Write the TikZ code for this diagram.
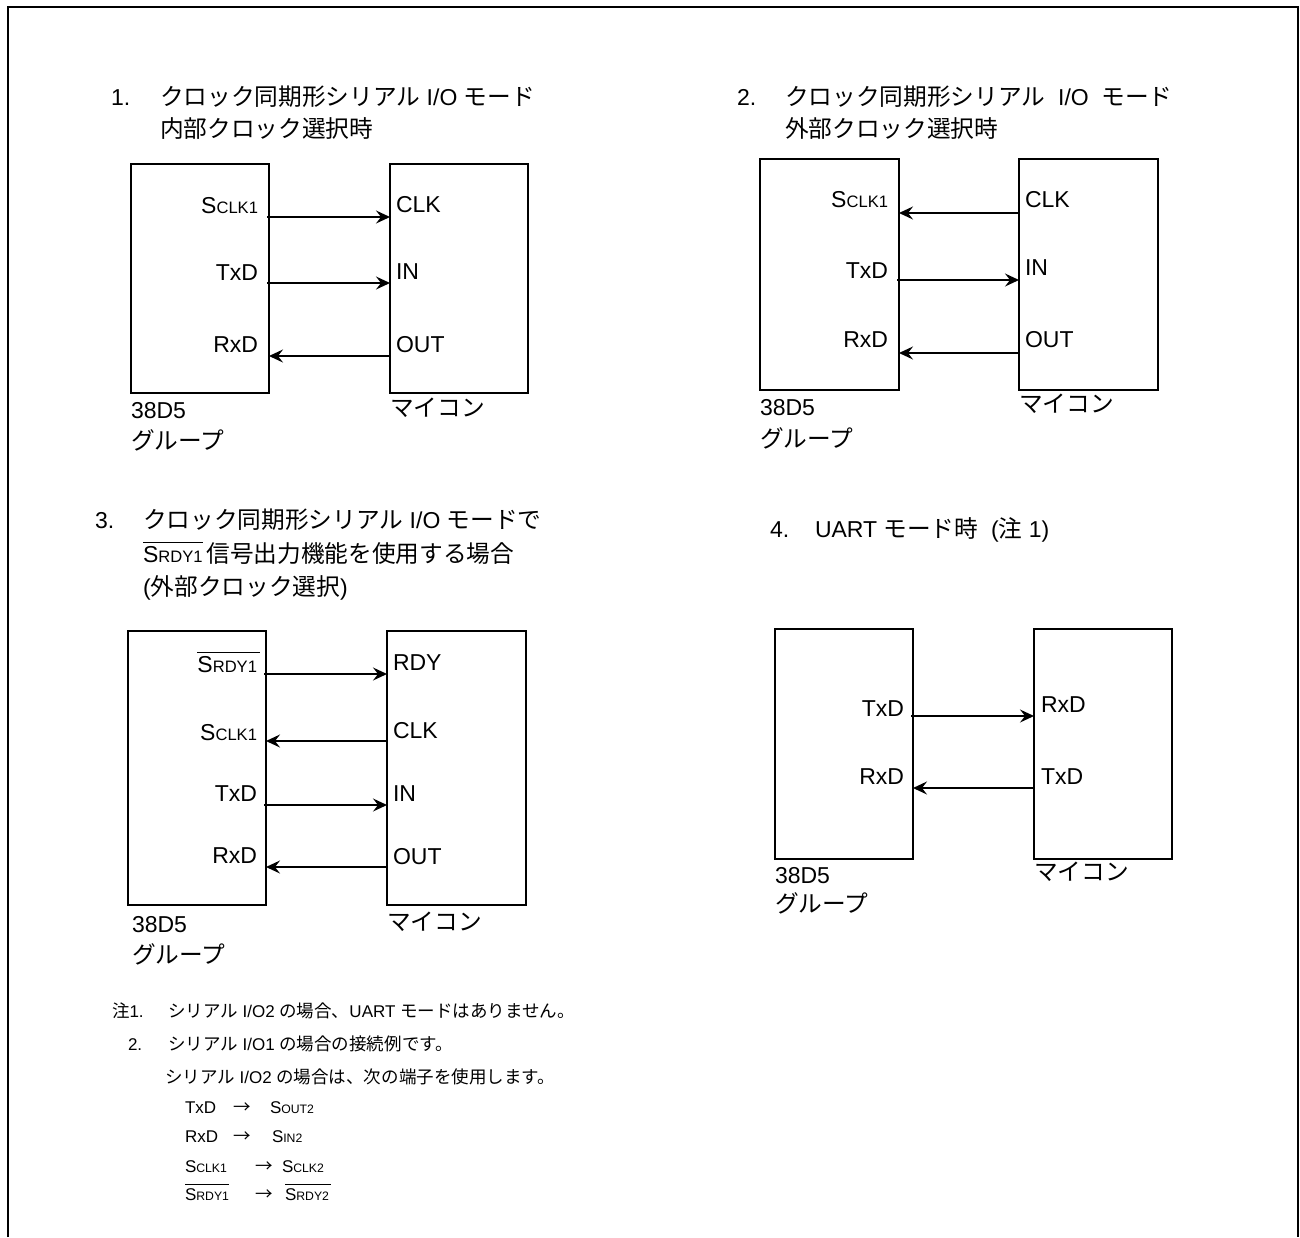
\documentclass[tikz,border=0pt]{standalone}
\usepackage{fontspec}
\setmainfont{Liberation Sans}
\newfontfamily\jp[Scale=1.03]{Noto Sans CJK JP}
\usetikzlibrary{arrows.meta,calc}
\newcommand\J[1]{{\jp #1}}
\newcommand\sml[1]{{\fontsize{0.72em}{1em}\selectfont #1}}
\newcommand\ovl[1]{\vbox{\hrule height 1.2pt\kern 3pt\hbox{#1}}}
\begin{document}
\begin{tikzpicture}[x=1pt,y=-1pt,
 box/.style={draw, line width=2pt, inner sep=0pt, outer sep=0pt, anchor=north west},
 txt/.style={inner sep=0pt, outer sep=0pt, font=\fontsize{23}{27}\selectfont},
 lft/.style={txt, anchor=base east},
 rgt/.style={txt, anchor=base west},
 ttl/.style={txt, anchor=base west},
 note/.style={inner sep=0pt, outer sep=0pt, anchor=base west, font=\fontsize{17}{20}\selectfont},
 arr/.style={line width=1.5pt, -{Stealth[length=14pt,width=13pt,inset=5pt]}},
]
\useasboundingbox (0,0) rectangle (1300,1237);
\draw[line width=2.5pt] (8,1237) -- (8,7) -- (1298,7) -- (1298,1237);

% ---------------- Diagram 1 ----------------
\node[ttl] (t1n) at (111,105) {1.};
\node[ttl] (t1a) at (160,105) {\J{クロック同期形シリアル} I/O \J{モード}};
\node[ttl] (t1b) at (160,137) {\J{内部クロック選択時}};
\node[box, minimum width=138, minimum height=229] (L1) at (131,164) {};
\node[box, minimum width=138, minimum height=229] (R1) at (390,164) {};
\node[lft] (l1a) at ($(L1.north east)+(-11,49)$) {S\sml{CLK1}};
\node[lft] (l1b) at ($(L1.north east)+(-11,116)$) {TxD};
\node[lft] (l1c) at ($(L1.north east)+(-11,188)$) {RxD};
\node[rgt] (r1a) at ($(R1.north west)+(6,48)$) {CLK};
\node[rgt] (r1b) at ($(R1.north west)+(6,115)$) {IN};
\node[rgt] (r1c) at ($(R1.north west)+(6,188)$) {OUT};
\draw[arr] ($(L1.north east)+(-2,53)$) -- ($(R1.north west)+(0,53)$);
\draw[arr] ($(L1.north east)+(-2,119)$) -- ($(R1.north west)+(0,119)$);
\draw[arr] ($(R1.north west)+(0,192)$) -- ($(L1.north east)+(0,192)$);
\node[ttl] (c1a) at ($(L1.south west)+(0,25)$) {38D5};
\node[ttl] (c1b) at ($(L1.south west)+(0,56)$) {\J{グループ}};
\node[ttl] (c1c) at ($(R1.south west)+(0,23)$) {\J{マイコン}};

% ---------------- Diagram 2 ----------------
\node[ttl] (t2n) at (737,105) {2.};
\node[ttl] (t2a) at (785,105) {\J{クロック同期形シリアル}\ \ I/O\ \ \J{モード}};
\node[ttl] (t2b) at (785,137) {\J{外部クロック選択時}};
\node[box, minimum width=139, minimum height=231] (L2) at (760,159) {};
\node[box, minimum width=139, minimum height=231] (R2) at (1019,159) {};
\node[lft] (l2a) at ($(L2.north east)+(-11,48)$) {S\sml{CLK1}};
\node[lft] (l2b) at ($(L2.north east)+(-11,119)$) {TxD};
\node[lft] (l2c) at ($(L2.north east)+(-11,188)$) {RxD};
\node[rgt] (r2a) at ($(R2.north west)+(6,48)$) {CLK};
\node[rgt] (r2b) at ($(R2.north west)+(6,116)$) {IN};
\node[rgt] (r2c) at ($(R2.north west)+(6,188)$) {OUT};
\draw[arr] ($(R2.north west)+(0,54)$) -- ($(L2.north east)+(0,54)$);
\draw[arr] ($(L2.north east)+(-2,121)$) -- ($(R2.north west)+(0,121)$);
\draw[arr] ($(R2.north west)+(0,194)$) -- ($(L2.north east)+(0,194)$);
\node[ttl] (c2a) at ($(L2.south west)+(0,25)$) {38D5};
\node[ttl] (c2b) at ($(L2.south west)+(0,57)$) {\J{グループ}};
\node[ttl] (c2c) at ($(R2.south west)+(0,22)$) {\J{マイコン}};

% ---------------- Diagram 3 ----------------
\node[ttl] (t3n) at (95,528) {3.};
\node[ttl] (t3a) at (143,528) {\J{クロック同期形シリアル} I/O \J{モードで}};
\node[ttl] (t3b) at (143,562) {\ovl{S\sml{RDY1}}\,\J{信号出力機能を使用する場合}};
\node[ttl] (t3c) at (143,595) {(\J{外部クロック選択})};
\node[box, minimum width=138, minimum height=274] (L3) at (128,631) {};
\node[box, minimum width=139, minimum height=274] (R3) at (387,631) {};
\node[lft] (l3a) at ($(L3.north east)+(-6,41)$) {\ovl{S\sml{RDY1}\kern3pt}};
\node[lft] (l3b) at ($(L3.north east)+(-9,109)$) {S\sml{CLK1}};
\node[lft] (l3c) at ($(L3.north east)+(-9,170)$) {TxD};
\node[lft] (l3d) at ($(L3.north east)+(-9,232)$) {RxD};
\node[rgt] (r3a) at ($(R3.north west)+(6,39)$) {RDY};
\node[rgt] (r3b) at ($(R3.north west)+(6,107)$) {CLK};
\node[rgt] (r3c) at ($(R3.north west)+(6,170)$) {IN};
\node[rgt] (r3d) at ($(R3.north west)+(6,233)$) {OUT};
\draw[arr] ($(L3.north east)+(-2,43)$) -- ($(R3.north west)+(0,43)$);
\draw[arr] ($(R3.north west)+(0,110)$) -- ($(L3.north east)+(0,110)$);
\draw[arr] ($(L3.north east)+(-2,174)$) -- ($(R3.north west)+(0,174)$);
\draw[arr] ($(R3.north west)+(0,236)$) -- ($(L3.north east)+(0,236)$);
\node[ttl] (c3a) at ($(L3.south west)+(4,27)$) {38D5};
\node[ttl] (c3b) at ($(L3.south west)+(4,58)$) {\J{グループ}};
\node[ttl] (c3c) at ($(R3.south west)+(0,25)$) {\J{マイコン}};

% ---------------- Diagram 4 ----------------
\node[ttl] (t4n) at (770,537) {4.};
\node[ttl] (t4a) at (815,537) {UART \J{モード時}\ \ (\J{注} 1)};
\node[box, minimum width=138, minimum height=230] (L4) at (775,629) {};
\node[box, minimum width=138, minimum height=230] (R4) at (1034,629) {};
\node[lft] (l4a) at ($(L4.north east)+(-9,87)$) {TxD};
\node[lft] (l4b) at ($(L4.north east)+(-9,155)$) {RxD};
\node[rgt] (r4a) at ($(R4.north west)+(7,83)$) {RxD};
\node[rgt] (r4b) at ($(R4.north west)+(7,155)$) {TxD};
\draw[arr] ($(L4.north east)+(-2,87)$) -- ($(R4.north west)+(0,87)$);
\draw[arr] ($(R4.north west)+(0,159)$) -- ($(L4.north east)+(0,159)$);
\node[ttl] (c4a) at ($(L4.south west)+(0,24)$) {38D5};
\node[ttl] (c4b) at ($(L4.south west)+(0,53)$) {\J{グループ}};
\node[ttl] (c4c) at ($(R4.south west)+(0,21)$) {\J{マイコン}};

% ---------------- Notes ----------------
\node[note] (n1n) at (112,1017) {\J{注}1.};
\node[note] (n1t) at (168,1017) {\J{シリアル} I/O2 \J{の場合、}UART \J{モードはありません。}};
\node[note] (n2n) at (128,1050) {2.};
\node[note] (n2t) at (168,1050) {\J{シリアル} I/O1 \J{の場合の接続例です。}};
\node[note] (n3t) at (165,1083) {\J{シリアル} I/O2 \J{の場合は、次の端子を使用します。}};
\node[note] (p1a) at (185,1113) {TxD};
\node[note] (p1b) at (233,1113) {\J{→}};
\node[note] (p1c) at (270,1113) {S\sml{OUT2}};
\node[note] (p2a) at (185,1142) {RxD};
\node[note] (p2b) at (233,1142) {\J{→}};
\node[note] (p2c) at (272,1142) {S\sml{IN2}};
\node[note] (p3a) at (185,1172) {S\sml{CLK1}};
\node[note] (p3b) at (255,1172) {\J{→}};
\node[note] (p3c) at (282,1172) {S\sml{CLK2}};
\node[note] (p4a) at (185,1200) {\ovl{S\sml{RDY1}}};
\node[note] (p4b) at (255,1200) {\J{→}};
\node[note] (p4c) at (285,1200) {\ovl{S\sml{RDY2}\kern2pt}};
\end{tikzpicture}
\end{document}
